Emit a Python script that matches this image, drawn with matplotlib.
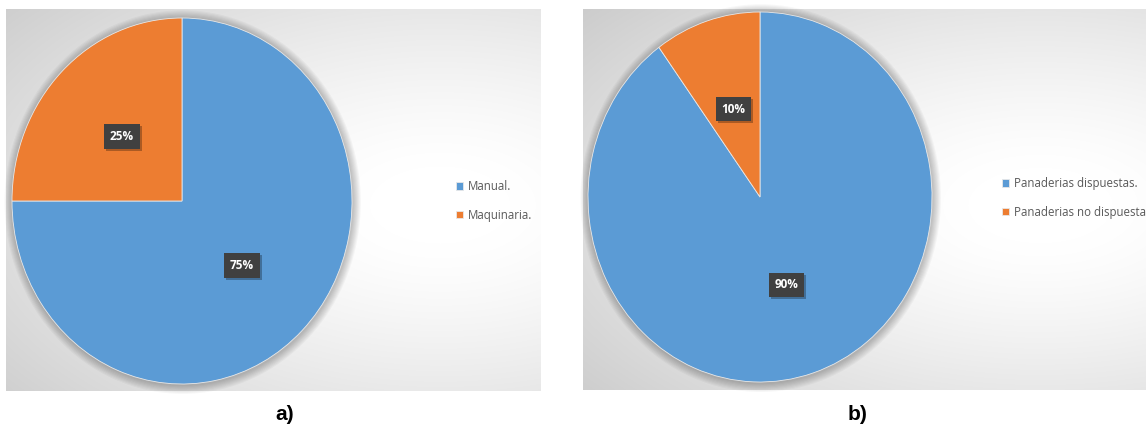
import numpy as np
import matplotlib
matplotlib.use("Agg")
import matplotlib.pyplot as plt
from matplotlib.transforms import offset_copy
from matplotlib.patches import Ellipse

# ---- data ----
labels_a = ["Manual.", "Maquinaria."]
values_a = [75, 25]
labels_b = ["Panaderias dispuestas.", "Panaderias no dispuestas."]
values_b = [90, 10]
panel_titles = ["a)", "b)"]
colors = ["#5B9BD5", "#ED7D31"]

W, H = 1146, 430
fig = plt.figure(figsize=(W / 100, H / 100), dpi=100)
fig.patch.set_facecolor("white")


def rect(x0, y0, x1, y1):
    return [x0 / W, (H - y1) / H, (x1 - x0) / W, (y1 - y0) / H]


def background(x0, y0, x1, y1, cx, cy, sx, sy):
    ax = fig.add_axes(rect(x0, y0, x1, y1))
    xs = np.arange(x0, x1)
    ys = np.arange(y0, y1)
    X, Y = np.meshgrid(xs, ys)
    d = np.sqrt(((X - cx) / sx) ** 2 + ((Y - cy) / sy) ** 2)
    d = np.clip(d, 0, 1.3)
    g = 1.0 - 0.18 * np.clip(d - 0.15, 0, None) ** 1.3
    g = np.clip(g, 0.78, 1.0)
    img = np.dstack([g, g, g])
    ax.imshow(img, extent=(x0, x1, y1, y0), aspect="auto", interpolation="bilinear")
    ax.set_axis_off()
    return ax


background(6, 9, 541, 391, 440, 205, 470, 260)
background(583, 9, 1146, 390, 1040, 205, 480, 250)


def pie_panel(box, values, labels, legend_xy):
    ax = fig.add_axes(rect(*box))
    ax.patch.set_alpha(0)
    # soft shadow halo around the pie
    for k in range(8):
        r = 1.0 + 0.006 * (k + 1)
        ax.add_patch(Ellipse((0.004, -0.006), 2 * r, 2 * r, facecolor="black",
                             edgecolor="none", alpha=0.03, zorder=0, clip_on=False))
    wedges, _, autotexts = ax.pie(
        values, colors=colors, startangle=90, counterclock=False,
        autopct="%1.0f%%", pctdistance=0.5, radius=1.0,
        wedgeprops=dict(linewidth=0.6, edgecolor="#e8e8e8"),
        textprops=dict(color="white", fontsize=8.5, fontweight="bold",
                       family=["Open Sans", "DejaVu Sans"]))
    for w in wedges:
        w.set_zorder(2)
    ax.set_aspect("auto")
    ax.set_xlim(-1.0, 1.0)
    ax.set_ylim(-1.0, 1.0)
    for t in autotexts:
        x, y = t.get_position()
        ax.text(x, y, t.get_text(), ha="center", va="center",
                fontsize=8.5, fontweight="bold", color=(0, 0, 0, 0),
                family=["Open Sans", "DejaVu Sans"],
                transform=offset_copy(ax.transData, fig=fig, x=2, y=-2, units="dots"),
                bbox=dict(boxstyle="square,pad=0.5", facecolor="black",
                          edgecolor="none", alpha=0.28), zorder=4)
        t.set_bbox(dict(boxstyle="square,pad=0.5", facecolor="#404040",
                        edgecolor="none"))
        t.set_zorder(5)
    lx, ly = legend_xy
    leg = fig.legend(wedges, labels, loc="center left",
                     bbox_to_anchor=(lx / W, (H - ly) / H),
                     frameon=False, handlelength=0.6,
                     handleheight=0.6, handletextpad=0.45, labelspacing=1.35,
                     borderpad=0.0, borderaxespad=0.0,
                     prop=dict(family=["Open Sans", "DejaVu Sans"], size=8.3))
    for t in leg.get_texts():
        t.set_color("#595959")
    return ax


pie_panel((12, 18, 352, 384), values_a, labels_a, (456, 201))
pie_panel((588, 12, 932, 382), values_b, labels_b, (1002, 198))

fig.text(285 / W, (H - 415) / H, panel_titles[0], ha="center", va="center",
         fontsize=15, fontweight="bold", family=["Liberation Sans", "DejaVu Sans"])
fig.text(858 / W, (H - 415) / H, panel_titles[1], ha="center", va="center",
         fontsize=15, fontweight="bold", family=["Liberation Sans", "DejaVu Sans"])

fig.savefig("out.png", dpi=100)
